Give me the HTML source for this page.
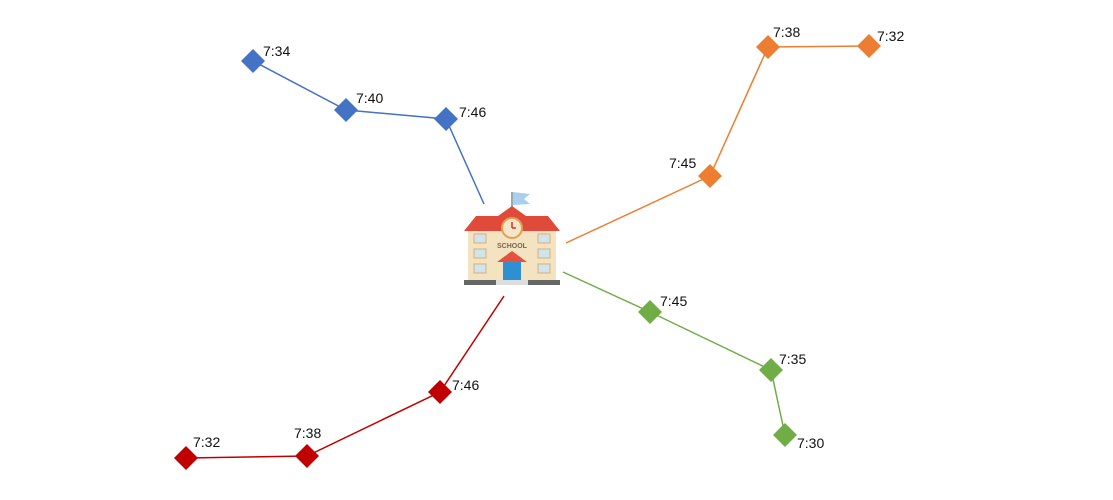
<!DOCTYPE html>
<html><head><meta charset="utf-8"><style>
html,body{margin:0;padding:0;background:#fff;width:1113px;height:500px;overflow:hidden}
text{font-family:"Liberation Sans",sans-serif;font-size:14px;fill:#111}
</style></head><body>
<svg width="1113" height="500" viewBox="0 0 1113 500" xmlns="http://www.w3.org/2000/svg">
<defs><path id="d" d="M0,-12 L12,0 L0,12 L-12,0Z"/></defs>
<!-- blue -->
<polyline points="253,61 346,110 446,119 484,204" fill="none" stroke="#4472C4" stroke-width="1.5"/>
<use href="#d" x="253" y="61" fill="#4472C4"/><use href="#d" x="346" y="110" fill="#4472C4"/><use href="#d" x="446" y="119" fill="#4472C4"/>
<text x="263" y="56">7:34</text><text x="356" y="103">7:40</text><text x="459" y="117">7:46</text>
<!-- orange -->
<polyline points="869,46 768,47 710,176 566,243" fill="none" stroke="#ED7D31" stroke-width="1.5"/>
<use href="#d" x="869" y="46" fill="#ED7D31"/><use href="#d" x="768" y="47" fill="#ED7D31"/><use href="#d" x="710" y="176" fill="#ED7D31"/>
<text x="877" y="41">7:32</text><text x="773" y="37">7:38</text><text x="669" y="168">7:45</text>
<!-- green -->
<polyline points="563,272 650,312 771,370 785,435" fill="none" stroke="#70AD47" stroke-width="1.5"/>
<use href="#d" x="650" y="312" fill="#70AD47"/><use href="#d" x="771" y="370" fill="#70AD47"/><use href="#d" x="785" y="435" fill="#70AD47"/>
<text x="660" y="306">7:45</text><text x="779" y="364">7:35</text><text x="797" y="448">7:30</text>
<!-- red -->
<polyline points="186,458 307,456 440,392 504,296" fill="none" stroke="#C00000" stroke-width="1.5"/>
<use href="#d" x="186" y="458" fill="#C00000"/><use href="#d" x="307" y="456" fill="#C00000"/><use href="#d" x="440" y="392" fill="#C00000"/>
<text x="193" y="447">7:32</text><text x="294" y="438">7:38</text><text x="452" y="390">7:46</text>
<!-- school -->
<g>
<line x1="512" y1="192" x2="512" y2="214" stroke="#9ab" stroke-width="2"/>
<path d="M513,192 L530,194 L524,199 L530,204 L513,205Z" fill="#a8d0ee"/>
<rect x="468" y="228" width="88" height="52" fill="#f3e3c0"/>
<path d="M476,216 L498,216 L512,206 L526,216 L548,216 L560,231 L464,231Z" fill="#e04a3a"/>
<circle cx="512" cy="228" r="10" fill="#f6e6c8" stroke="#e0a050" stroke-width="2"/>
<line x1="512" y1="228" x2="512" y2="222" stroke="#c33" stroke-width="1.5"/><line x1="512" y1="228" x2="516" y2="228" stroke="#c33" stroke-width="1.5"/>
<text x="512" y="248" text-anchor="middle" style="font-size:7px;font-weight:bold;fill:#7a6450">SCHOOL</text>
<path d="M497,262 L512,251 L527,262Z" fill="#e8503e"/>
<rect x="503" y="262" width="18" height="18" fill="#2e90d0"/>
<g fill="#cfe4ee" stroke="#d9b078" stroke-width="1">
<rect x="474" y="234" width="12" height="9"/><rect x="474" y="249" width="12" height="9"/><rect x="474" y="264" width="12" height="9"/>
<rect x="538" y="234" width="12" height="9"/><rect x="538" y="249" width="12" height="9"/><rect x="538" y="264" width="12" height="9"/>
</g>
<rect x="464" y="280" width="96" height="5" fill="#666"/>
<rect x="496" y="280" width="32" height="5" fill="#ddd"/>
</g>
</svg>
</body></html>
